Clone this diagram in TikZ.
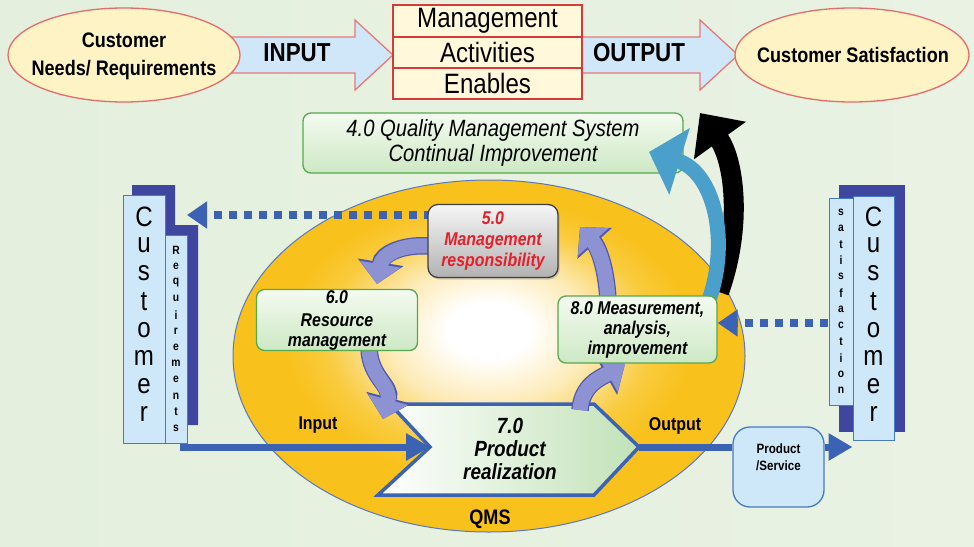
\documentclass[tikz,border=0pt]{standalone}
\usepackage{fontspec}
\setmainfont{Liberation Sans}[FakeStretch=0.86]
\usetikzlibrary{arrows.meta,shapes.geometric,shadows}
\definecolor{ellfill}{HTML}{FDF3C5}
\definecolor{ellborder}{HTML}{E46C6C}
\definecolor{arrfill}{HTML}{CFE7F8}
\definecolor{arrborder}{HTML}{E57A7A}
\definecolor{boxfill}{HTML}{FFF8DA}
\definecolor{boxborder}{HTML}{D83A3A}
\definecolor{qmsgold}{HTML}{F8C11C}
\definecolor{qmsmid}{HTML}{F9CB3E}
\definecolor{qmslight}{HTML}{FDEBB8}
\definecolor{qmsline}{HTML}{5A78C0}
\definecolor{grntop}{HTML}{F4FBF1}
\definecolor{grnbot}{HTML}{CDE8C4}
\definecolor{grnborder}{HTML}{57A84E}
\definecolor{greytop}{HTML}{F6F6F6}
\definecolor{greybot}{HTML}{B2B2B2}
\definecolor{redtxt}{HTML}{E3202B}
\definecolor{flowblue}{HTML}{3C62B4}
\definecolor{shadowblue}{HTML}{3F46A0}
\definecolor{colfill}{HTML}{CFE8F9}
\definecolor{colborder}{HTML}{4779C4}
\definecolor{cycfill}{HTML}{8C92D2}
\definecolor{cycborder}{HTML}{5058AE}
\definecolor{bigblue}{HTML}{4A9FCB}
\definecolor{prodgreen}{HTML}{C2E2B8}
\definecolor{bgL}{HTML}{E4F0DD}
\definecolor{bgR}{HTML}{E9F2E3}
\pgfdeclareradialshading{qmsshade}{\pgfpoint{0bp}{4bp}}{color(0bp)=(white); color(4bp)=(white); color(10bp)=(qmslight); color(16bp)=(qmsmid); color(20bp)=(qmsgold); color(25bp)=(qmsgold); color(50bp)=(qmsgold)}
\begin{document}
\begin{tikzpicture}[x=1pt,y=-1pt,
  topell/.style={ellipse, draw=ellborder, line width=1.3pt, fill=ellfill, minimum width=232pt, minimum height=94pt, inner sep=0pt},
  toptxt/.style={align=center, inner sep=0pt, font=\bfseries\fontsize{21}{28}\selectfont},
  blockarr/.style={draw=arrborder, line width=1.3pt, fill=arrfill, line join=miter},
  arrtxt/.style={inner sep=0pt, font=\bfseries\fontsize{26}{30}\selectfont},
  midbox/.style={draw=boxborder, line width=1.3pt, fill=boxfill, minimum width=189pt, inner sep=0pt, font=\fontsize{28}{30}\selectfont},
  greenbox/.style={draw=grnborder, line width=1.3pt, top color=grntop, bottom color=grnbot, rounded corners=8pt, align=center, inner sep=0pt, font=\bfseries\itshape\fontsize{18.5}{20}\selectfont},
  col/.style={draw=colborder, line width=1pt, fill=colfill, inner sep=0pt},
  bigletter/.style={inner sep=0pt, font=\fontsize{28}{28}\selectfont},
  smallletter/.style={inner sep=0pt, font=\bfseries\fontsize{12}{12}\selectfont},
  dotarr/.style={draw=flowblue, line width=8pt, dash pattern=on 8pt off 7pt, -{Triangle[length=20pt,width=26pt]}},
  flow/.style={draw=flowblue, line width=7pt},
  flowarr/.style={flow, -{Triangle[length=24pt,width=26pt]}},
  cyc/.style={draw=cycfill, line width=15pt, -{Triangle[length=20pt,width=40pt]}, preaction={draw=cycborder, line width=17.5pt, -{Triangle[length=22pt,width=45pt]}}},
  lbl/.style={inner sep=0pt, font=\bfseries\fontsize{18.5}{20}\selectfont}
]
\useasboundingbox (0,0) rectangle (974,546);
\shade[left color=bgL, middle color=white, right color=bgR] (0,0) rectangle (974,546);

% ---------- top row ----------
\draw[blockarr] (225,37) -- (355,37) -- (355,20) -- (393,55) -- (355,90) -- (355,73) -- (225,73) -- cycle;
\draw[blockarr] (575,37) -- (700,37) -- (700,20) -- (738,55) -- (700,90) -- (700,73) -- (575,73) -- cycle;
\node[topell] (custL) at (124,55) {};
\node[toptxt] (custLt) at (124,56) {Customer\\Needs/ Requirements};
\node[topell, minimum width=234pt] (custR) at (852,55) {};
\node[toptxt] (custRt) at (853,55) {Customer Satisfaction};
\node[arrtxt] (inputT) at (297,53) {INPUT};
\node[arrtxt] (outputT) at (639,53) {OUTPUT};
\node[midbox, minimum height=32pt] (mgt) at (487.5,21) {Management};
\node[midbox, minimum height=31pt] (act) at (487.5,52.5) {Activities};
\node[midbox, minimum height=31pt] (enb) at (487.5,83.5) {Enables};

% ---------- customer columns ----------
\fill[shadowblue] (132,185) -- (175,185) -- (175,225) -- (198,225) -- (198,425) -- (132,425) -- cycle;
\node[col, minimum width=42pt, minimum height=248pt] (lcust) at (144,319) {};
\node[col, minimum width=22pt, minimum height=208pt] (lreq) at (176,339) {};
\foreach \ch [count=\i] in {C,u,s,t,o,m,e,r}
  \node[bigletter] (lc\i) at (144,{217+28.2*(\i-1)}) {\ch};
\foreach \ch [count=\i] in {R,e,q,u,i,r,e,m,e,n,t,s}
  \node[smallletter] (lr\i) at (176,{250+16.2*(\i-1)}) {\ch};

\fill[shadowblue] (839,185) rectangle (905,432);
\node[col, minimum width=41pt, minimum height=244pt] (rcust) at (873.5,318) {};
\node[col, minimum width=24pt, minimum height=207pt] (rsat) at (841,301.5) {};
\foreach \ch [count=\i] in {C,u,s,t,o,m,e,r}
  \node[bigletter] (rc\i) at (873.5,{217+28.2*(\i-1)}) {\ch};
\foreach \ch [count=\i] in {s,a,t,i,s,f,a,c,t,i,o,n}
  \node[smallletter] (rs\i) at (841,{212+16.2*(\i-1)}) {\ch};

% ---------- QMS ellipse ----------
\node[ellipse, minimum width=512pt, minimum height=352pt, shading=qmsshade, draw=qmsline, line width=1pt, inner sep=0pt] (qms) at (489,356) {};
\node[lbl, font=\bfseries\fontsize{21}{22}\selectfont] (qmsT) at (490,519) {QMS};

% ---------- 4.0 box and big arrows ----------
\node[greenbox, minimum width=380pt, minimum height=60pt, font=\itshape\fontsize{23.5}{25}\selectfont] (q4) at (493,143) {4.0 Quality Management System\\Continual Improvement};
\draw[black, line width=20pt, -{Triangle[length=34pt,width=62pt]}] (719,292) .. controls (743,225) and (734,160) .. (700,113);
\draw[bigblue, line width=15pt, -{Triangle[length=32pt,width=68pt]}] (709,300) .. controls (730,240) and (714,172) .. (649,152);

% ---------- dotted feedback arrows ----------
\coordinate (d1s) at (432,215);
\coordinate (d1e) at (187,215);
\draw[dotarr] (d1s) -- (d1e);
\coordinate (d2s) at (828,323);

% ---------- 7.0 product realization ----------
\coordinate (c1) at (390,404);
\coordinate (c2) at (594,404);
\coordinate (ctip) at (639,447);
\coordinate (c4) at (594,495);
\coordinate (c5) at (378,495);
\coordinate (cnotch) at (430,447);
\draw[draw=flowblue, line width=3.5pt, left color=white, right color=prodgreen, line join=miter] (c1) -- (c2) -- (ctip) -- (c4) -- (c5) -- (cnotch) -- cycle;
\node[lbl, align=center, font=\bfseries\itshape\fontsize{22}{23}\selectfont] (p7) at (510,449) {7.0\\Product\\realization};

\coordinate (inS) at (180,447);
\node[draw=colborder, line width=1.3pt, fill=colfill, rounded corners=17pt, minimum width=91pt, minimum height=80pt, inner sep=0pt] (ps) at (778.5,467) {};
\node[lbl, align=center, font=\bfseries\fontsize{13.5}{17}\selectfont] (psT) at (778.5,457) {Product\\/Service};
\draw[flowarr] (inS) -- (cnotch);
\draw[flow] (ctip) -- (ps.west |- ctip);
\draw[flowarr] (ps.east |- ctip) -- (rcust.west |- ctip);
\node[lbl] (inT) at (318,425) {Input};
\node[lbl] (outT) at (675,426) {Output};

% ---------- cycle arrows ----------
\draw[cyc] (430,246) .. controls (402,244) and (382,254) .. (377,284);
\draw[cyc] (369,348) .. controls (370,378) and (392,385) .. (383,419);
\draw[cyc] (580,410) .. controls (582,385) and (600,378) .. (625,364);
\draw[cyc] (608,300) .. controls (606,264) and (597,246) .. (580,227);

% ---------- process boxes ----------
\node[draw=black!75, line width=1.3pt, top color=greytop, bottom color=greybot, rounded corners=10pt, minimum width=130pt, minimum height=73pt, inner sep=0pt, align=center, text=redtxt, font=\bfseries\itshape\fontsize{18.5}{21}\selectfont, drop shadow={opacity=0.35, shadow xshift=1.5pt, shadow yshift=-2pt}] (m5) at (493,241) {5.0\\Management\\responsibility};
\node[greenbox, minimum width=161pt, minimum height=61pt] (r6) at (337,320) {6.0\\[3pt]Resource\\management};
\node[greenbox, minimum width=159pt, minimum height=67pt] (m8) at (637.5,329.5) {8.0 Measurement,\\analysis,\\improvement};
\draw[dotarr] (d2s) -- (m8.east |- d2s);
\end{tikzpicture}
\end{document}
